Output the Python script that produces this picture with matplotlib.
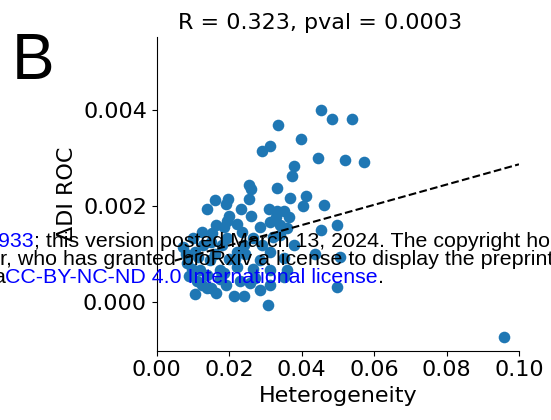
import matplotlib
matplotlib.use('Agg')
import matplotlib.pyplot as plt
from matplotlib.transforms import IdentityTransform

# heterogeneity vs delta DI ROC
heterogeneity = [
    0.0453, 0.0485, 0.0540, 0.0335, 0.0398, 0.0313, 0.0290, 0.0444, 0.0521, 0.0571,
    0.0379, 0.0374, 0.0255, 0.0260, 0.0332, 0.0412, 0.0161, 0.0198, 0.0255, 0.0368,
    0.0190, 0.0140, 0.0232, 0.0309, 0.0405, 0.0461, 0.0331, 0.0350, 0.0199, 0.0260,
    0.0366, 0.0195, 0.0330, 0.0223, 0.0186, 0.0499, 0.0125, 0.0153, 0.0453, 0.0073,
    0.0101, 0.0438, 0.0506, 0.0083, 0.0120, 0.0499, 0.0107, 0.0212, 0.0241, 0.0306,
    0.0140, 0.0350, 0.0285, 0.0313, 0.0341, 0.0235, 0.0129, 0.0193, 0.0267, 0.0322,
    0.0359, 0.0115, 0.0147, 0.0221, 0.0285, 0.0313, 0.0350, 0.0097, 0.0175, 0.0221,
    0.0267, 0.0313, 0.0359, 0.0175, 0.0258, 0.0313, 0.0138, 0.0341, 0.0959, 0.0191,
    0.0285, 0.0160, 0.0180, 0.0240, 0.0150, 0.0110, 0.0270, 0.0200, 0.0290, 0.0165,
    0.0380, 0.0080, 0.0090, 0.0125, 0.0165, 0.0185, 0.0230, 0.0215, 0.0245, 0.0105,
    0.0150,
]
delta_di_roc = [
    0.00400, 0.00382, 0.00382, 0.00369, 0.00340, 0.00326, 0.00314, 0.00301, 0.00297, 0.00292,
    0.00283, 0.00263, 0.00244, 0.00235, 0.00237, 0.00222, 0.00213, 0.00215, 0.00214, 0.00216,
    0.00204, 0.00193, 0.00193, 0.00194, 0.00201, 0.00202, 0.00190, 0.00190, 0.00179, 0.00179,
    0.00178, 0.00169, 0.00178, 0.00163, 0.00156, 0.00161, 0.00147, 0.00143, 0.00150, 0.00115,
    0.00133, 0.00101, 0.00094, 0.00081, 0.00067, 0.00032, 0.00018, 0.00013, 0.00013, -0.00006,
    0.00029, 0.00053, 0.00157, 0.00167, 0.00160, 0.00146, 0.00119, 0.00133, 0.00133, 0.00136,
    0.00154, 0.00094, 0.00088, 0.00105, 0.00088, 0.00105, 0.00091, 0.00070, 0.00067, 0.00074,
    0.00070, 0.00067, 0.00067, 0.00049, 0.00039, 0.00035, 0.00056, 0.00140, -0.00073, 0.00035,
    0.00025, 0.00100, 0.00120, 0.00120, 0.00030, 0.00045, 0.00050, 0.00090, 0.00120, 0.00160,
    0.00120, 0.00100, 0.00055, 0.00035, 0.00020, 0.00060, 0.00045, 0.00090, 0.00100, 0.00105,
    0.00125,
]

# regression line as drawn
fit_slope = 0.0211
fit_intercept = 0.00076
fit_x = [0.005, 0.1]

title = "R = 0.323, pval = 0.0003"

fig = plt.figure(figsize=(5.51, 4.2), dpi=100)
ax = fig.add_axes([0.2844, 0.165, 0.6575, 0.7469])

ax.scatter(heterogeneity, delta_di_roc, s=70, color='#1f77b4', linewidths=0, zorder=2)
ax.plot(fit_x, [fit_intercept + fit_slope * x for x in fit_x],
        color='black', linestyle='--', linewidth=1.5, zorder=3)

ax.set_xlim(0, 0.1)
ax.set_ylim(-0.00101, 0.00552)
ax.set_xticks([0.0, 0.02, 0.04, 0.06, 0.08, 0.10])
ax.set_xticklabels(['0.00', '0.02', '0.04', '0.06', '0.08', '0.10'])
ax.set_yticks([0.0, 0.002, 0.004])
ax.set_yticklabels(['0.000', '0.002', '0.004'])
ax.tick_params(labelsize=16)
ax.spines['top'].set_visible(False)
ax.spines['right'].set_visible(False)
ax.set_xlabel("Heterogeneity", fontsize=16)
ax.set_ylabel("ΔDI ROC", fontsize=16)

px = IdentityTransform()
fig.text(320, 391, title, fontsize=16, ha='center', va='baseline', transform=px)
fig.text(12, 341, "B", fontsize=46, family='Liberation Sans', va='baseline', transform=px)


# bioRxiv stamp laid over the panel (clipped at the figure edges like the source)
def stamp_line(x, y, parts):
    renderer = fig.canvas.get_renderer()
    for s, c in parts:
        t = fig.text(x, y, s, color=c, fontsize=15.4, family='Liberation Sans',
                     va='baseline', transform=px, zorder=10)
        x = t.get_window_extent(renderer).x1


stamp_line(-2, 173, [("933", 'blue'),
                     ("; this version posted March 13, 2024. The copyright hol", 'black')])
stamp_line(0, 155, [("r, who has granted bioRxiv a license to display the preprint", 'black')])
stamp_line(-7, 137, [("a", 'black'), ("CC-BY-NC-ND 4.0 International license", 'blue'), (".", 'black')])

fig.savefig("out.png", dpi=100, facecolor='white')
